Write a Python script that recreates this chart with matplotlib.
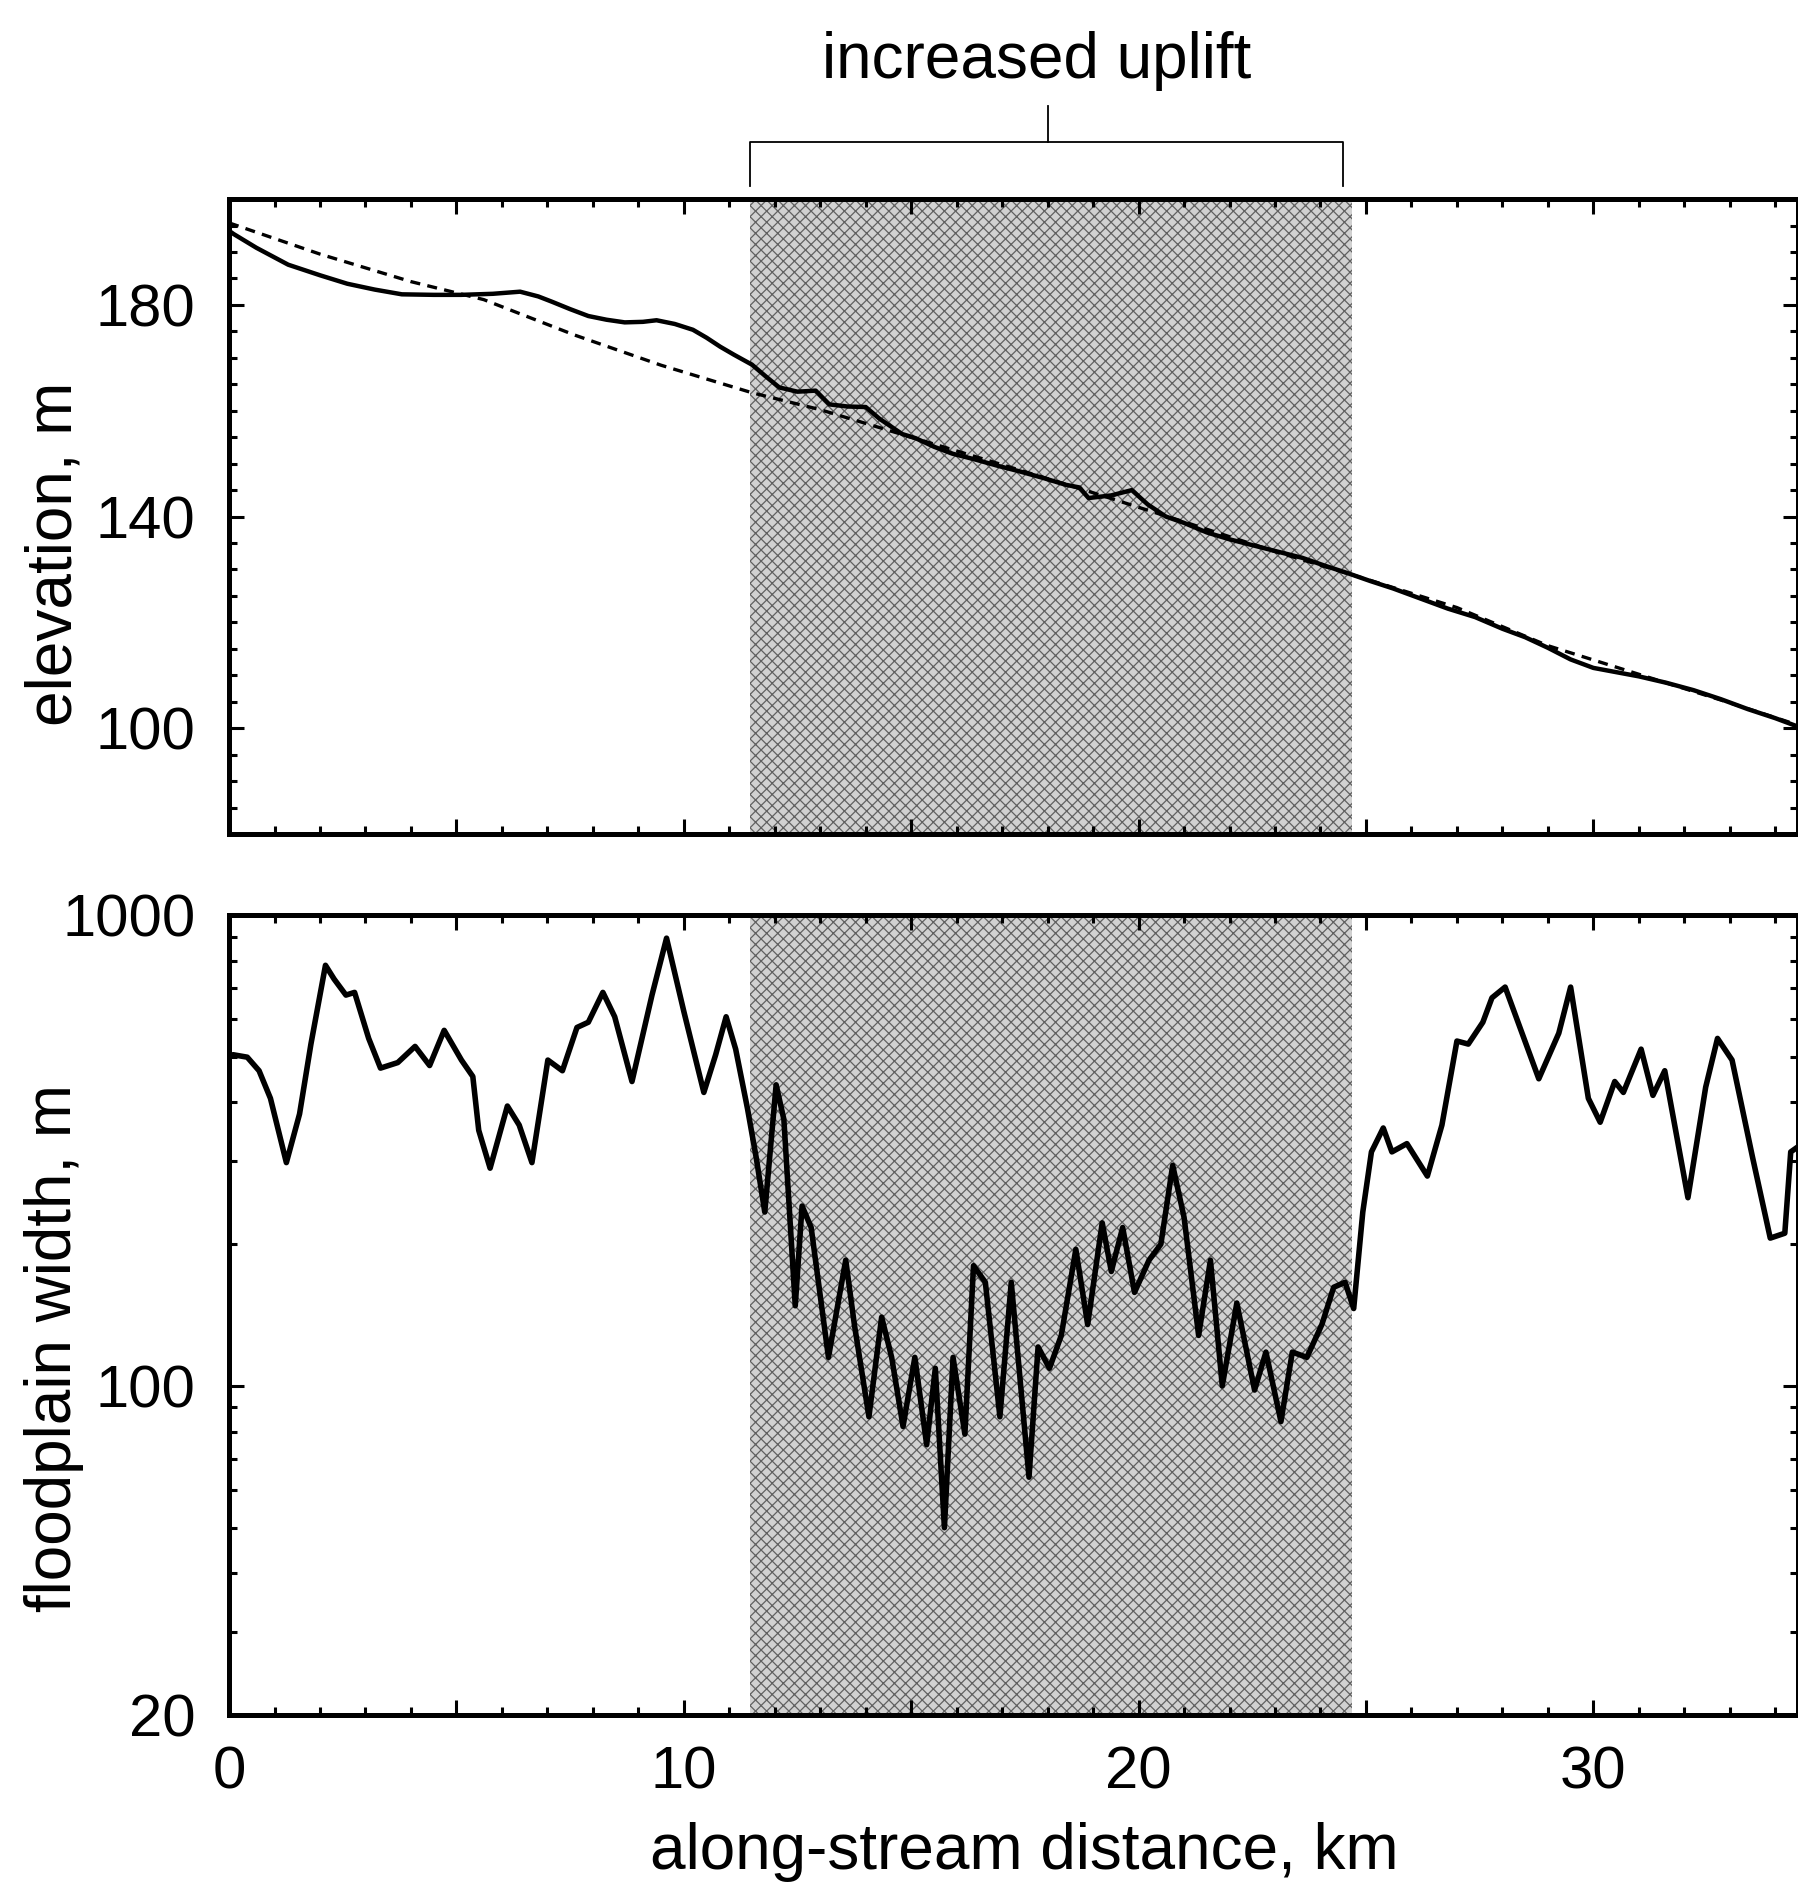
"""Along-stream elevation and floodplain width profiles, uplift zone shaded.

Two stacked panels sharing the along-stream distance axis: the upper one shows
the channel elevation (solid) against a smooth reference profile (dashed), the
lower one the floodplain width on a log axis.
"""

import matplotlib
matplotlib.use("Agg")
import matplotlib.pyplot as plt
from matplotlib.ticker import FixedLocator, FuncFormatter, MultipleLocator, NullFormatter

plt.rcParams["font.family"] = ["Liberation Sans", "DejaVu Sans"]
plt.rcParams["hatch.linewidth"] = 0.9

# --- data ---------------------------------------------------------------------
elev_km = [
    0.0, 0.1, 0.6, 1.3, 2.0, 2.6, 3.2, 3.8, 4.5, 5.1, 5.8, 6.4, 6.8, 7.1, 7.5,
    7.9, 8.3, 8.7, 9.1, 9.4, 9.8, 10.2, 10.5, 10.8, 11.1, 11.5, 11.8, 12.1,
    12.5, 12.9, 13.2, 13.6, 14.0, 14.3, 14.8, 15.1, 15.5, 15.9, 16.4, 16.9,
    17.4, 17.9, 18.4, 18.7, 18.9, 19.4, 19.85, 20.2, 20.6, 21.0, 21.5, 22.0,
    22.5, 23.0, 23.6, 24.1, 24.6, 25.1, 25.6, 26.2, 26.8, 27.4, 28.0, 28.5,
    29.0, 29.5, 30.0, 30.5, 31.0, 31.6, 32.2, 32.8, 33.4, 34.0, 34.5,
]
elev_m = [
    194.0, 193.4, 190.8, 187.6, 185.6, 184.0, 182.9, 182.0, 181.9, 181.9,
    182.1, 182.5, 181.6, 180.6, 179.2, 177.9, 177.2, 176.7, 176.8, 177.1,
    176.4, 175.3, 173.8, 172.1, 170.6, 168.7, 166.5, 164.4, 163.6, 163.8,
    161.2, 160.8, 160.7, 158.5, 155.6, 154.8, 153.2, 151.9, 150.8, 149.6,
    148.5, 147.3, 146.0, 145.5, 143.5, 144.0, 145.0, 142.3, 140.0, 138.8,
    137.0, 135.7, 134.6, 133.5, 132.2, 130.7, 129.3, 127.8, 126.4, 124.5,
    122.6, 121.0, 118.8, 117.2, 115.2, 113.0, 111.4, 110.6, 109.8, 108.6,
    107.2, 105.5, 103.6, 101.9, 100.3,
]

ref_km = [0, 2, 4, 5.6, 7.6, 9.5, 11.5, 13, 15, 17, 19, 21, 23, 25, 27, 29, 31, 33, 34.5]
ref_elev_m = [
    195.5, 189.6, 184.4, 181.0, 174.3, 168.6, 163.4, 160.2, 155.0, 149.8,
    144.5, 139.0, 133.4, 128.2, 122.8, 115.6, 110.2, 104.8, 100.6,
]

width_km = [
    0.0, 0.09, 0.4, 0.66, 0.91, 1.26, 1.55, 1.8, 2.12, 2.31,
    2.57, 2.76, 3.07, 3.33, 3.71, 4.09, 4.41, 4.73, 5.11, 5.36,
    5.49, 5.74, 6.12, 6.38, 6.66, 7.01, 7.33, 7.65, 7.9, 8.22,
    8.48, 8.86, 9.3, 9.62, 10.0, 10.44, 10.7, 10.93, 11.14, 11.4,
    11.59, 11.78, 12.03, 12.2, 12.45, 12.6, 12.8, 13.18, 13.56, 13.75,
    14.07, 14.35, 14.57, 14.82, 15.08, 15.34, 15.53, 15.73, 15.92, 16.18,
    16.37, 16.63, 16.95, 17.2, 17.59, 17.79, 18.04, 18.3, 18.62, 18.88,
    19.2, 19.4, 19.65, 19.91, 20.23, 20.49, 20.75, 21.0, 21.32, 21.58,
    21.84, 22.16, 22.55, 22.8, 23.13, 23.38, 23.7, 24.03, 24.29, 24.54,
    24.73, 24.93, 25.12, 25.38, 25.57, 25.9, 26.35, 26.67, 27.0, 27.25,
    27.57, 27.77, 28.06, 28.8, 29.24, 29.5, 29.89, 30.15, 30.47, 30.66,
    31.05, 31.31, 31.57, 32.08, 32.47, 32.73, 33.05, 33.5, 33.89, 34.21,
    34.34, 34.5,
]
width_m = [
    500, 505, 499, 467, 408, 298, 378, 532, 782, 731,
    676, 685, 547, 473, 486, 526, 479, 569, 492, 454,
    349, 290, 393, 358, 298, 492, 467, 577, 592, 685,
    608, 443, 676, 893, 624, 420, 505, 608, 519, 388,
    306, 234, 436, 368, 148, 241, 217, 115, 185, 135,
    86, 140, 115, 82, 115, 75, 109, 50, 115, 79,
    180, 166, 86, 166, 64, 121, 109, 128, 195, 135,
    222, 175, 217, 158, 185, 200, 294, 228, 128, 185,
    100, 150, 98, 118, 84, 118, 115, 135, 162, 166,
    146, 234, 314, 353, 314, 327, 279, 358, 540, 532,
    592, 667, 703, 449, 561, 703, 408, 363, 443, 420,
    519, 414, 467, 251, 431, 547, 492, 306, 206, 211,
    314, 322,
]

uplift_zone_km = (11.45, 24.7)
bracket_km = (11.45, 24.5, 18.0)
x_ticks_labelled = [0, 10, 20, 30]
elev_ticks = [100, 140, 180]
width_ticks = [20, 100, 1000]
width_minor = [30, 40, 50, 60, 70, 80, 90, 200, 300, 400, 500, 600, 700, 800, 900]

LABEL_SIZE = 46
TICK_SIZE = 43


def _style_axes(ax):
    for sp in ax.spines.values():
        sp.set_linewidth(3.6)
        sp.set_zorder(5)
    ax.tick_params(which="both", direction="in", top=True, right=True,
                   width=2.2, labelsize=TICK_SIZE)
    ax.tick_params(which="major", length=11)
    ax.tick_params(which="minor", length=6)
    ax.tick_params(axis="y", pad=24)
    ax.tick_params(axis="x", pad=22)
    ax.set_xlim(0, 34.5)
    ax.xaxis.set_major_locator(MultipleLocator(5))
    ax.xaxis.set_minor_locator(MultipleLocator(1))
    ax.xaxis.set_major_formatter(
        FuncFormatter(lambda v, _: f"{v:.0f}" if round(v) in x_ticks_labelled else "")
    )
    # stippled band approximated by a light fill with a fine dark cross-hatch
    ax.axvspan(*uplift_zone_km, facecolor="0.82", edgecolor="0.38",
               hatch="xxx", linewidth=0, zorder=0.5)


def main():
    fig = plt.figure(figsize=(17.98, 18.87), dpi=100)
    ax_top = fig.add_axes([0.1274, 0.558, 0.8726, 0.3365])
    ax_bot = fig.add_axes([0.1274, 0.0911, 0.8726, 0.424])

    # elevation panel
    _style_axes(ax_top)
    ax_top.plot(ref_km, ref_elev_m, "--", color="k", lw=2.4, dashes=(3, 2.2), zorder=2)
    ax_top.plot(elev_km, elev_m, "-", color="k", lw=3.2, zorder=3,
                solid_joinstyle="round")
    ax_top.set_ylim(80, 200)
    ax_top.yaxis.set_major_locator(FixedLocator(elev_ticks))
    ax_top.yaxis.set_minor_locator(MultipleLocator(5))
    ax_top.tick_params(axis="x", labelbottom=False)
    ax_top.set_ylabel("elevation, m", fontsize=LABEL_SIZE, va="center")
    ax_top.yaxis.set_label_coords(-0.1115, 0.442)

    # bracket marking the uplift zone
    trans = ax_top.get_xaxis_transform()
    b0, b1, bmid = bracket_km
    ax_top.plot([b0, b0, b1, b1], [1.020, 1.090, 1.090, 1.020], color="k",
                lw=1.3, transform=trans, clip_on=False)
    ax_top.plot([bmid, bmid], [1.090, 1.146], color="k", lw=1.3,
                transform=trans, clip_on=False)
    ax_top.text(17.75, 1.19, "increased uplift", transform=trans,
                ha="center", va="baseline", fontsize=LABEL_SIZE)

    # floodplain width panel
    _style_axes(ax_bot)
    ax_bot.plot(width_km, width_m, "-", color="k", lw=4.0, zorder=3,
                solid_joinstyle="round")
    ax_bot.set_yscale("log")
    ax_bot.set_ylim(20, 1000)
    ax_bot.yaxis.set_major_locator(FixedLocator(width_ticks))
    ax_bot.yaxis.set_major_formatter(FuncFormatter(lambda v, _: f"{v:.0f}"))
    ax_bot.yaxis.set_minor_locator(FixedLocator(width_minor))
    ax_bot.yaxis.set_minor_formatter(NullFormatter())
    ax_bot.set_ylabel("floodplain width, m", fontsize=LABEL_SIZE, va="center")
    ax_bot.yaxis.set_label_coords(-0.1115, 0.459)
    ax_bot.set_xlabel("along-stream distance, km", fontsize=LABEL_SIZE)
    ax_bot.xaxis.set_label_coords(0.507, -0.134)

    fig.savefig("out.png", dpi=100)
    plt.close(fig)


if __name__ == "__main__":
    main()
